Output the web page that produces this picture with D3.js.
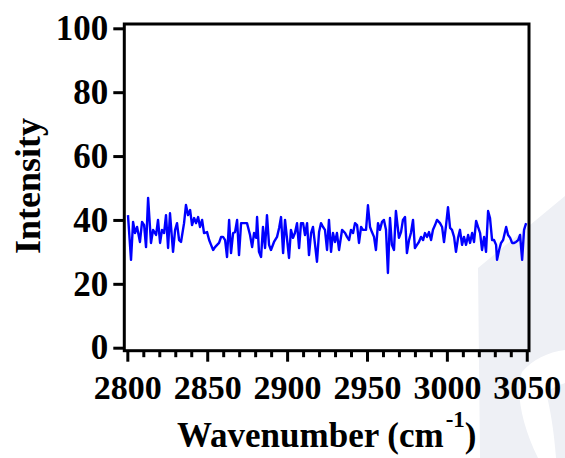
<!DOCTYPE html>
<html>
<head>
<meta charset="utf-8">
<script src="https://cdn.jsdelivr.net/npm/d3@7"></script>
<style>
  html, body { margin: 0; padding: 0; background: #fff; }
  svg { display: block; }
  text { font-family: "Liberation Serif", "Times New Roman", serif; font-weight: bold; fill: #000; }
</style>
</head>
<body>
<div id="chart"></div>
<script>
// ---- data ----
const wavenumber = [
  2800.4,2802.3,2803.6,2804.8,2806.1,2807.9,2809.2,2810.5,2811.7,2813.0,2814.8,2816.1,2818.0,2819.2,2820.5,2821.7,2823.0,2824.2,2825.5,2826.7,2828.6,2829.9,2831.1,2832.4,2833.6,2835.5,2836.7,2838.0,2839.3,2840.5,2841.8,2843.0,2844.3,2845.5,2846.8,2848.0,
  2849.9,2851.2,2852.4,2853.7,2854.9,2856.2,2857.4,2858.7,2859.9,2861.2,2862.4,2863.7,2864.9,2866.2,2867.4,2868.7,2869.9,2871.2,2872.4,2873.7,2874.9,2876.8,2878.1,2879.3,2880.6,2881.2,2882.4,2883.7,2884.9,2886.2,2887.4,2888.7,2889.9,2891.8,2893.7,2895.0,2896.2,2897.5,2898.7,
  2901.2,2902.4,2903.7,2904.9,2906.2,2907.5,2908.7,2910.0,2911.2,2912.5,2913.7,2915.0,2916.2,2917.5,2918.7,2920.0,2921.2,2922.5,2923.7,2925.0,2926.2,2927.5,2928.7,2930.0,2931.2,2932.5,2934.4,2936.3,2937.5,2938.8,2940.0,2941.3,2942.5,2943.8,2945.0,2946.3,2947.5,
  2949.4,2950.6,2951.9,2953.1,2954.4,2955.6,2956.9,2958.1,2959.4,2960.6,2961.9,2963.1,2964.4,2965.6,2966.9,2968.1,2970.0,2971.3,2972.5,2973.8,2975.0,2976.3,2977.5,2978.8,2980.0,2981.3,2982.5,2983.8,2985.1,2986.3,2987.6,2988.8,2990.1,2991.3,2992.6,2993.8,2995.7,2997.0,2998.2,
  2999.5,3000.7,3002.0,3003.2,3004.5,3005.7,3007.0,3008.2,3009.5,3010.7,3012.0,3013.3,3014.5,3015.8,3017.0,3018.3,3019.5,3020.8,3022.0,3023.3,3024.5,3025.8,3027.0,3028.3,3029.5,3030.8,3031.4,3032.7,3033.9,3035.2,3037.1,3038.3,3039.6,3040.8,3042.1,3043.3,3044.6,3045.8,3047.1,3048.3,3049.6
];
const intensity = [
  41.5,27.5,39.4,35.9,37.8,33.1,39.4,38.4,31.5,46.9,32.8,36.9,35.3,40,32.8,36.9,35.9,41.5,31.2,42.1,30,36.9,39,33.7,33.1,39,44.7,41.5,43.1,38.4,40.6,39,40.9,37.8,40,35.9,
  36.2,33.7,32.2,30.6,31.5,32.2,32.8,34.7,34.7,33.7,28.4,40,29.6,35.9,36.2,40,29,39,39,39,39,35.3,31.5,35.9,34.4,40.9,30,28.4,37.8,31.2,41.5,32.2,30.6,33.1,34.7,37.5,40.9,29.6,40,
  28.1,36.9,34.4,35.9,39,31.2,39,39,35.3,39,29,35.9,37.8,32.2,26.9,36.2,39,37.8,36.9,30.6,40,30,35.9,33.1,35.9,30.6,36.9,35.9,34.7,33.7,36.9,35.9,39,38.4,32.8,37.8,36.9,
  36.9,44.6,37.8,36.2,34.7,30.6,39,36.9,39.4,40,36.9,23.4,40.6,32.2,30.6,42.8,34.4,36.2,40,40.9,29.6,33.7,35.9,40,31.2,32.2,33.1,34.7,33.7,35.9,34.7,36.2,33.7,36.9,38.4,40,39,37.8,33.1,
  38.4,44,37.5,36.9,34.7,30,34.4,36.9,32.2,34.7,32.2,35.3,32.8,35.9,33.1,39.7,37.8,35.9,30.6,34.7,30,42.8,40.6,33.7,33.7,32.2,27.5,30.6,32.8,33.7,37.8,35.3,34.4,32.8,32.8,33.1,33.7,35.3,27.5,36.9,39
];
const xTicks = [2800, 2850, 2900, 2950, 3000, 3050];
const xMinorTicks = d3.range(2800, 3051, 10);
const yTicks = [0, 20, 40, 60, 80, 100];
const xDomain = [2798.1, 3051.4];
const yDomain = [-0.94, 101.35];
const xTitle = "Wavenumber (cm";
const xTitleSup = "-1";
const yTitle = "Intensity";

// ---- layout ----
const W = 565, H = 458;
const L = 124.3, R = 529, T = 24, B = 350.7;

const svg = d3.select("#chart").append("svg").attr("width", W).attr("height", H);

// faint background shape
svg.append("path")
  .attr("d", "M478,268 L565,196 L565,350 C548,352 532,360 522,372 C515,392 522,425 538,458 L480,458 Z")
  .attr("fill", "#eef0f5");
svg.append("path")
  .attr("d", "M546,392 C556,386 562,384 565,383 L565,458 L556,458 C554,430 550,408 546,392 Z")
  .attr("fill", "#eef0f5");

const x = d3.scaleLinear().domain(xDomain).range([L, R]);
const y = d3.scaleLinear().domain(yDomain).range([B, T]);

// minor x ticks
const xMinor = svg.append("g").attr("transform", `translate(0,${B})`)
  .call(d3.axisBottom(x).tickValues(xMinorTicks.filter(v => xTicks.indexOf(v) < 0)).tickSize(6.5).tickFormat(""));
xMinor.select(".domain").remove();
xMinor.selectAll("line").attr("stroke", "#000").attr("stroke-width", 3);

// major x ticks
const xAxis = svg.append("g").attr("transform", `translate(0,${B})`)
  .call(d3.axisBottom(x).tickValues(xTicks).tickSize(11).tickPadding(13).tickFormat(d3.format("d")));
xAxis.select(".domain").remove();
xAxis.selectAll("line").attr("stroke", "#000").attr("stroke-width", 3);
xAxis.selectAll("text").attr("font-size", 34).attr("font-family", "Liberation Serif, serif").attr("font-weight", "bold").attr("fill", "#000");

// y ticks
const yAxis = svg.append("g").attr("transform", `translate(${L},0)`)
  .call(d3.axisLeft(y).tickValues(yTicks).tickSize(11).tickPadding(5).tickFormat(d3.format("d")));
yAxis.select(".domain").remove();
yAxis.selectAll("line").attr("stroke", "#000").attr("stroke-width", 3);
yAxis.selectAll("text").attr("font-size", 35).attr("font-family", "Liberation Serif, serif").attr("font-weight", "bold").attr("fill", "#000");

// data line
const pts = wavenumber.map((w, i) => [w, intensity[i]]);
svg.append("path")
  .datum(pts)
  .attr("fill", "none")
  .attr("stroke", "#0000ff")
  .attr("stroke-width", 2.4)
  .attr("stroke-linejoin", "round")
  .attr("d", d3.line().x(d => x(d[0])).y(d => y(d[1])));

// frame
svg.append("rect")
  .attr("x", L).attr("y", T).attr("width", R - L).attr("height", B - T)
  .attr("fill", "none").attr("stroke", "#000").attr("stroke-width", 3);

// titles
const xt = svg.append("text")
  .attr("x", 177).attr("y", 447)
  .attr("font-size", 35);
xt.append("tspan").text(xTitle);
xt.append("tspan").attr("font-size", 23).attr("dy", -20).attr("dx", 2).text(xTitleSup);
xt.append("tspan").attr("font-size", 35).attr("dy", 20).text(")");

svg.append("text")
  .attr("transform", `translate(40,${186}) rotate(-90)`)
  .attr("text-anchor", "middle")
  .attr("font-size", 36)
  .text(yTitle);
</script>
</body>
</html>
